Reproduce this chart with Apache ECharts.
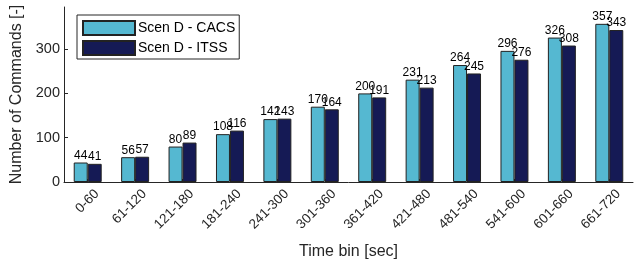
<!DOCTYPE html>
<html>
<head>
<meta charset="utf-8">
<script src="https://cdn.jsdelivr.net/npm/echarts@6/dist/echarts.min.js"></script>
<style>
    html, body { margin: 0; padding: 0; background: #fff; }
    #chart { width: 637px; height: 264px; }
</style>
</head>
<body>
<div id="chart"></div>
<script>
    // time bins and command counts per scenario
    var timeBins = ['0-60', '61-120', '121-180', '181-240', '241-300', '301-360',
        '361-420', '421-480', '481-540', '541-600', '601-660', '661-720'];
    var cacsCounts = [44, 56, 80, 108, 142, 170, 200, 231, 264, 296, 326, 357];
    var itssCounts = [41, 57, 89, 116, 143, 164, 191, 213, 245, 276, 308, 343];
    var yTicks = [0, 100, 200, 300];

    var font = 'Liberation Sans, Arial, Helvetica, sans-serif';
    var axisColor = '#262626';

    function barSeries(name, data, color) {
        return {
            name: name,
            type: 'bar',
            data: data,
            barGap: '0%',
            barCategoryGap: '41%',
            itemStyle: { color: color, borderColor: '#222', borderWidth: 1 },
            label: {
                show: true,
                position: 'top',
                distance: 1,
                color: '#000',
                fontSize: 12,
                fontFamily: font
            }
        };
    }

    var option = {
        animation: false,
        backgroundColor: '#fff',
        grid: { left: 64, right: 4, top: 7, bottom: 82, outerBoundsMode: 'none', containLabel: false },
        legend: {
            orient: 'vertical',
            left: 77,
            top: 15,
            padding: [5, 4, 3, 5],
            itemGap: 4,
            itemWidth: 52,
            itemHeight: 14,
            icon: 'rect',
            backgroundColor: '#fff',
            borderColor: axisColor,
            borderWidth: 1,
            borderRadius: 0,
            textStyle: { fontSize: 14, color: '#000', fontFamily: font, padding: [0, 0, 0, -2] },
            data: ['Scen D - CACS', 'Scen D - ITSS']
        },
        xAxis: {
            type: 'category',
            data: timeBins,
            name: 'Time bin [sec]',
            nameLocation: 'middle',
            nameGap: 62,
            nameTextStyle: { fontSize: 16, color: axisColor, fontFamily: font },
            axisLine: { lineStyle: { color: axisColor, width: 1 } },
            axisTick: { show: true, inside: true, alignWithLabel: true, length: 3, lineStyle: { color: axisColor } },
            axisLabel: {
                rotate: 45, fontSize: 13.5, color: axisColor, fontFamily: font,
                margin: 19, interval: 0, padding: [0, -13, 0, 0]
            }
        },
        yAxis: {
            type: 'value',
            min: 0,
            max: 395,
            interval: 100,
            name: 'Number of Commands [-]',
            nameLocation: 'middle',
            nameGap: 31,
            nameTextStyle: { fontSize: 16, color: axisColor, fontFamily: font },
            splitLine: { show: false },
            axisLine: { show: true, lineStyle: { color: axisColor, width: 1 } },
            axisTick: { show: true, inside: true, length: 4, lineStyle: { color: axisColor } },
            axisLabel: {
                fontSize: 14.5, color: axisColor, fontFamily: font, margin: 4,
                showMaxLabel: false,
                formatter: function (v) { return yTicks.indexOf(v) >= 0 ? String(v) : ''; }
            }
        },
        series: [
            barSeries('Scen D - CACS', cacsCounts, '#55B8D1'),
            barSeries('Scen D - ITSS', itssCounts, '#151A55')
        ]
    };

    var chart = echarts.init(document.getElementById('chart'));
    chart.setOption(option);
</script>
</body>
</html>
